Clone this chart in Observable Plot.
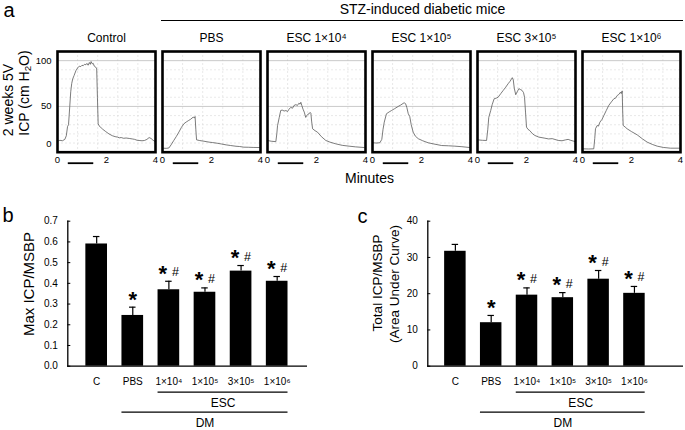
<!DOCTYPE html>
<html><head><meta charset="utf-8">
<script src="https://cdn.jsdelivr.net/npm/d3@7"></script>
<script src="https://cdn.jsdelivr.net/npm/@observablehq/plot@0.6"></script>
<style>
body{margin:0;background:#fff;font-family:"Liberation Sans",Arial,sans-serif;color:#000;}
#root{position:relative;width:685px;height:430px;overflow:hidden;background:#fff;}
.lbl{position:absolute;line-height:1.15;white-space:nowrap;}
.lbl sub{font-size:0.7em;line-height:0;vertical-align:-0.25em;}
.chart{position:absolute;}
</style></head><body><div id="root"></div>
<script>
// ---------- Panel a: ICP traces (minutes, cm H2O) ----------
const groups = ["Control","PBS","ESC 1×10⁴","ESC 1×10⁵","ESC 3×10⁵","ESC 1×10⁶"];
const traceControl = [[0,12],[0.1,13],[0.2,12.5],[0.3,14],[0.36,18],[0.41,28],[0.45,30],[0.5,50],[0.54,66],[0.58,75],[0.62,80],[0.68,84],[0.75,89],[0.82,92],[0.89,94],[0.95,93.5],[1.0,95],[1.05,94.5],[1.1,96],[1.16,95.5],[1.2,97],[1.25,95],[1.3,98],[1.34,96],[1.37,99],[1.42,96.5],[1.46,97],[1.5,94],[1.56,93],[1.6,91],[1.63,60],[1.66,31],[1.72,28],[1.77,27],[1.85,25],[1.97,22.5],[2.1,20],[2.24,18],[2.35,17],[2.45,16.5],[2.52,15.7],[2.6,16],[2.7,15.2],[2.8,15.5],[2.93,15],[3.05,14.5],[3.15,14],[3.25,13],[3.33,12.8],[3.45,12.5],[3.55,12.8],[3.65,14],[3.74,16],[3.82,15],[3.9,13],[3.98,11.7]];
const tracePBS = [[0,4.4],[0.15,4.2],[0.26,4.6],[0.35,8],[0.46,12.8],[0.56,17],[0.67,22],[0.77,27],[0.87,31],[0.97,33],[1.07,34.7],[1.15,36],[1.25,38.3],[1.3,37.5],[1.33,39],[1.36,25],[1.39,13.5],[1.5,12.8],[1.69,12],[1.9,11],[2.05,10.5],[2.23,9.8],[2.4,9],[2.6,8],[2.78,7.3],[3.0,6.5],[3.15,6.2],[3.32,5.5],[3.5,5.4],[3.7,5.2],[3.97,5.1]];
const traceEsc1e4 = [[0,12.8],[0.15,12],[0.34,11.5],[0.38,20],[0.41,29],[0.48,38],[0.54,45.6],[0.6,46],[0.68,45],[0.75,45.5],[0.82,44.5],[0.88,47],[0.95,49],[1.02,48],[1.08,51],[1.16,52],[1.22,51],[1.28,53.5],[1.33,52.5],[1.36,54.5],[1.4,51],[1.45,47],[1.5,43.8],[1.56,38],[1.6,40],[1.65,41.5],[1.7,42],[1.74,43.5],[1.77,42.6],[1.8,34],[1.84,25.6],[1.94,23.5],[2.04,21.9],[2.2,17],[2.38,12.8],[2.55,11],[2.79,9.1],[3.05,7.5],[3.33,6.6],[3.6,5.8],[3.95,5.1]];
const traceEsc1e5 = [[0,10.3],[0.15,10],[0.3,10.3],[0.38,14],[0.43,25],[0.48,32.8],[0.57,42],[0.68,44],[0.78,45.6],[0.9,47.5],[1.05,50],[1.15,51.5],[1.29,54],[1.35,53],[1.4,49],[1.46,42],[1.52,39],[1.58,30],[1.66,21.9],[1.75,17.5],[1.87,14.7],[2.05,12.5],[2.27,10.3],[2.5,9],[2.82,7.3],[3.1,7],[3.36,6.6],[3.65,6],[3.97,5.1]];
const traceEsc3e5 = [[0,13.5],[0.2,13],[0.37,12.8],[0.42,25],[0.46,38],[0.54,45.6],[0.6,52],[0.68,58.4],[0.76,59],[0.84,60],[0.95,64],[1.05,67.5],[1.15,71],[1.25,74.8],[1.33,77.5],[1.42,81.4],[1.46,79],[1.5,70],[1.56,62.8],[1.62,66],[1.69,69.4],[1.75,68.5],[1.82,67.5],[1.88,65],[1.92,60],[1.96,43.8],[2.0,27.4],[2.06,25],[2.13,23.7],[2.25,20],[2.34,18.3],[2.5,16.5],[2.75,15.3],[2.9,14.5],[3.05,14.8],[3.3,12.8],[3.45,12.5],[3.6,13.5],[3.7,14],[3.8,13],[3.97,11.7]];
const traceEsc1e6 = [[0,3.7],[0.25,3.5],[0.46,3.7],[0.5,15],[0.53,25.6],[0.6,29.2],[0.65,28.5],[0.71,32.8],[0.8,36],[0.87,40],[0.97,45.5],[1.07,51],[1.18,55],[1.28,58.4],[1.35,59],[1.42,62],[1.48,63],[1.55,65.6],[1.58,64],[1.62,67],[1.64,45],[1.66,29.2],[1.74,27.5],[1.82,25.6],[2.0,22.5],[2.23,19],[2.45,14.5],[2.64,11],[2.85,8.5],[3.05,6.6],[3.3,5.2],[3.59,4.4],[3.97,4.4]];
const traces = [traceControl, tracePBS, traceEsc1e4, traceEsc1e5, traceEsc3e5, traceEsc1e6];
const minuteTicks = [0, 2, 4];
const icpTicksUpper = [50, 100];
const icpTicksZero = [0];
const gridMinutes = [0.82, 1.64, 2.46, 3.28];
const gridMinor = [10, 20, 30, 40, 60, 70, 80, 90];
const gridMajor = [50, 100];
const stimPeriod = [{start: 0.44, end: 1.48}];

// ---------- Panels b & c: bar charts ----------
const categories = ["C","PBS","1×10⁴","1×10⁵","3×10⁵","1×10⁶"];
const maxIcpMean = [0.59, 0.245, 0.369, 0.357, 0.459, 0.41];
const maxIcpSem  = [0.036, 0.04, 0.041, 0.021, 0.027, 0.023];
const aucMean = [31.7, 12.0, 19.6, 18.9, 24.0, 20.1];
const aucSem  = [1.9, 2.0, 2.0, 1.4, 2.4, 1.9];
const vsControl = [false, true, true, true, true, true];   // *
const vsPBS     = [false, false, true, true, true, true];  // #
const maxIcpTicks = [0, 0.1, 0.2, 0.3, 0.4, 0.5, 0.6, 0.7];
const aucTicks = [0, 10, 20, 30, 40];
const groupSpans = [{name: "ESC", from: 2, to: 5}, {name: "DM", from: 1, to: 5}];

const FONT = "Liberation Sans, Arial, sans-serif";
const root = document.getElementById("root");

function label(html, cx, cy, size, rot, lh) {
  const d = document.createElement("div");
  d.className = "lbl";
  d.innerHTML = html;
  d.style.left = cx + "px";
  d.style.top = cy + "px";
  d.style.fontSize = size + "px";
  if (lh) d.style.lineHeight = lh;
  d.style.transform = "translate(-50%,-50%)" + (rot ? " rotate(-90deg)" : "");
  root.appendChild(d);
}
function place(node, left, top) {
  node.classList.add("chart");
  node.style.left = left + "px";
  node.style.top = top + "px";
  root.appendChild(node);
}

// ---- Panel a ----
const traceRows = traces.flatMap((tr, k) => tr.map(([t, v]) => ({group: groups[k], t, v})));
const plotA = Plot.plot({
  width: 685, height: 187,
  marginLeft: 55, marginRight: 3, marginTop: 51, marginBottom: 35.3,
  style: {fontFamily: FONT, fontSize: "9.5px", color: "#000", background: "transparent", overflow: "visible"},
  fx: {domain: groups, paddingInner: 0.0625, paddingOuter: 0, align: 0.5, label: null},
  x: {domain: [0, 4]},
  y: {domain: [0, 110]},
  marks: [
    Plot.ruleX(gridMinutes, {stroke: "#dadada", strokeWidth: 0.6, strokeDasharray: "2,2"}),
    Plot.ruleY(gridMinor, {stroke: "#dadada", strokeWidth: 0.6, strokeDasharray: "2,2"}),
    Plot.ruleY(gridMajor, {stroke: "#bdbdbd", strokeWidth: 0.8}),
    Plot.line(traceRows, {fx: "group", x: "t", y: "v", stroke: "#505050", strokeWidth: 0.75}),
    Plot.ruleY(stimPeriod, {y: 0, x1: "start", x2: "end", dy: 11, stroke: "#000", strokeWidth: 1.8}),
    Plot.frame({stroke: "#000", strokeWidth: 2.6}),
    Plot.axisX({ticks: minuteTicks, tickFormat: d3.format("d"), tickSize: 0, tickPadding: 4, label: null}),
    Plot.axisY({ticks: icpTicksUpper, tickFormat: d3.format("d"), tickSize: 0, tickPadding: 6, label: null}),
    Plot.axisY({ticks: icpTicksZero, tickFormat: d3.format("d"), tickSize: 0, tickPadding: 6, label: null, dy: -8}),
    Plot.axisFx({anchor: "top", tickSize: 0, tickPadding: 10, fontSize: 12, label: null})
  ]
});
place(plotA, 0, 0);

// ---- Panels b, c ----
const HALF = 0.3, CAP = 0.09;
function barChart({mean, sem, ticks, fmt, yMax, xDomain, width, marginLeft, marginRight}) {
  const rows = categories.map((c, i) => ({i, c, v: mean[i], top: mean[i] + sem[i], star: vsControl[i], hash: vsPBS[i]}));
  return Plot.plot({
    width, height: 230, marginLeft, marginRight, marginTop: 20.7, marginBottom: 64.3,
    style: {fontFamily: FONT, fontSize: "10px", color: "#000", background: "transparent", overflow: "visible"},
    x: {domain: xDomain},
    y: {domain: [0, yMax]},
    marks: [
      Plot.rectY(rows, {x1: d => d.i - HALF, x2: d => d.i + HALF, y1: 0, y2: "v", fill: "#000"}),
      Plot.ruleX(rows, {x: "i", y1: "v", y2: "top", stroke: "#000", strokeWidth: 1.2}),
      Plot.ruleY(rows, {y: "top", x1: d => d.i - CAP, x2: d => d.i + CAP, stroke: "#000", strokeWidth: 1.2}),
      Plot.text(rows.filter(d => d.star && !d.hash), {x: "i", y: "top", text: () => "*", fontSize: 22, fontWeight: "bold", dy: -7.5}),
      Plot.text(rows.filter(d => d.star && d.hash), {x: "i", y: "top", text: () => "*", fontSize: 22, fontWeight: "bold", dx: -6, dy: -7.5}),
      Plot.text(rows.filter(d => d.hash), {x: "i", y: "top", text: () => "#", fontSize: 12.5, dx: 6.5, dy: -9}),
      Plot.frame({anchor: "left", strokeWidth: 1.3}),
      Plot.ruleY([0], {strokeWidth: 1.3}),
      Plot.axisY({ticks, tickFormat: fmt, tickSize: -3, tickPadding: 13, label: null}),
      Plot.axisX({ticks: rows.map(d => d.i), tickFormat: i => categories[i], tickSize: 0, tickPadding: 12, label: null}),
      ...groupSpans.flatMap((g, k) => [
        Plot.ruleY([g], {y: 0, x1: d => d.from - HALF, x2: d => d.to + HALF, dy: 26 + 20 * k, strokeWidth: 1.3}),
        Plot.text([g], {x: d => (d.from + d.to) / 2, y: 0, text: "name", dy: 36.5 + 20.5 * k, fontSize: 12})
      ])
    ]
  });
}
const plotB = barChart({mean: maxIcpMean, sem: maxIcpSem, ticks: maxIcpTicks, fmt: d3.format(".1f"), yMax: 0.7,
  xDomain: [-0.8, 5.84], width: 320, marginLeft: 67.3, marginRight: 13});
place(plotB, 0, 200);
const plotC = barChart({mean: aucMean, sem: aucSem, ticks: aucTicks, fmt: d3.format("d"), yMax: 40,
  xDomain: [-0.77, 6.37], width: 345, marginLeft: 87.3, marginRight: 2});
place(plotC, 340, 200);

// ---- Text annotations ----
label("a", 9, 9.5, 20, false, "0.9");
label("b", 8, 215, 20);
label("c", 362.5, 216.3, 20);
label("STZ-induced diabetic mice", 422.5, 9, 14, false, "1");
const stzLine = document.createElement("div");
stzLine.style.cssText = "position:absolute;left:161px;top:19.5px;width:522px;height:1.3px;background:#000;";
root.appendChild(stzLine);
label("Minutes", 369.5, 178, 14);
label("2 weeks 5V", 8, 100, 14, true);
label("ICP (cm H<sub>2</sub>O)", 24, 93, 14, true);
label("Max ICP/MSBP", 29, 284, 15, true);
label("Total ICP/MSBP", 378, 283, 13.5, true);
label("(Area Under Curve)", 395, 284, 13.5, true);
</script></body></html>
